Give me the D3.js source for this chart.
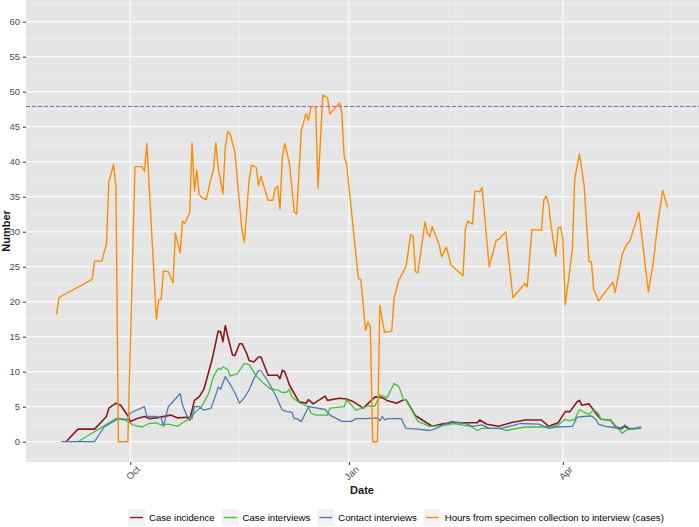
<!DOCTYPE html>
<html>
<head>
<meta charset="utf-8">
<script src="https://cdn.jsdelivr.net/npm/d3@7"></script>
<style>
  body { margin: 0; background: #fff; }
  svg { display: block; font-family: "Liberation Sans", Arial, sans-serif; }
</style>
</head>
<body>
<div id="main"></div>
<script>
// series names and colours (legend order)
const seriesNames = ['Case incidence', 'Case interviews', 'Contact interviews', 'Hours from specimen collection to interview (cases)'];
const seriesColors = ['#8b1a1a', '#3cc43c', '#4a7bb4', '#ff8c00'];

// dates are "MM-DD", Aug-Dec = 2020, Jan-May = 2021
const incidenceDates = ['09-04','09-09','09-16','09-21','09-22','09-25','09-27','09-30','10-01','10-04','10-07','10-09','10-12','10-18','10-21','10-25','10-26','10-28','10-30','11-01','11-04','11-05','11-07','11-08','11-09','11-10','11-11','11-13','11-14','11-16','11-17','11-19','11-20','11-22','11-24','11-25','11-28','12-02','12-03','12-04','12-05','12-07','12-11','12-14','12-15','12-17','12-22','12-23','12-28','12-31','01-03','01-07','01-12','01-15','01-17','01-21','01-24','01-25','01-29','02-05','02-10','02-15','02-24','02-25','02-28','03-05','03-10','03-16','03-23','03-26','03-30','04-02','04-04','04-07','04-08','04-09','04-12','04-14','04-15','04-17','04-21','04-23','04-25','04-27','04-29'];
const incidenceValues = [0,1.8,1.8,3.6,4.8,5.5,5.2,3.7,2.9,3.3,3.6,3.3,3.4,3.8,3.4,3.5,3.1,5.9,6.4,7.5,11.2,12.6,15.8,15.7,14.3,16.6,15.1,12.4,12.3,14.0,14.0,12.6,11.6,11.4,12.1,12.1,9.5,9.5,9.0,10.2,10.0,8.1,5.7,5.5,6.0,5.4,6.5,5.9,6.2,6.1,5.7,4.8,6.4,6.3,5.9,5.5,6.0,6.0,3.7,2.2,2.6,2.7,2.7,3.1,2.5,2.2,2.7,3.1,3.1,2.2,2.7,4.3,4.3,5.7,5.9,5.2,5.4,4.5,4.0,3.2,3.1,2.2,1.9,2.2,1.8];

const caseIntDates = ['09-09','09-25','09-29','10-02','10-06','10-09','10-12','10-14','10-17','10-21','10-23','10-26','10-28','10-31','11-03','11-05','11-07','11-08','11-09','11-11','11-12','11-15','11-18','11-20','11-23','11-26','11-29','12-02','12-04','12-06','12-07','12-08','12-11','12-15','12-16','12-18','12-23','12-24','12-30','12-31','01-04','01-09','01-12','01-14','01-17','01-20','01-22','01-24','01-25','01-30','02-04','02-09','02-14','02-21','02-24','02-26','03-05','03-08','03-16','03-27','03-30','04-02','04-04','04-06','04-08','04-10','04-12','04-14','04-16','04-17','04-21','04-26','04-28','05-04'];
const caseIntValues = [0,3.3,3.1,2.4,2.1,2.6,2.7,2.4,2.5,2.2,2.7,3.3,4.1,5.0,6.9,9.3,10.5,10.3,10.7,10.3,9.4,9.7,11.2,11.0,9.4,8.4,7.5,7.4,7.0,7.1,7.5,6.4,5.6,5.0,4.1,3.8,3.8,4.8,5.0,6.0,4.5,5.1,5.1,6.7,6.3,8.3,7.9,6.0,6.0,2.9,2.2,2.3,2.6,2.2,1.6,1.9,1.9,1.6,2.1,2.1,2.4,3.2,3.0,3.2,4.6,4.2,3.9,4.6,4.0,3.2,3.1,1.2,1.7,1.9];

const contactDates = ['09-02','09-16','09-20','09-24','09-26','09-30','10-01','10-07','10-08','10-12','10-14','10-15','10-17','10-20','10-22','10-23','10-25','10-27','10-28','10-30','11-01','11-04','11-06','11-07','11-08','11-10','11-12','11-14','11-16','11-18','11-20','11-22','11-24','11-25','11-28','12-01','12-04','12-06','12-08','12-09','12-10','12-12','12-15','12-22','12-24','12-29','01-02','01-04','01-08','01-13','01-14','01-15','01-16','01-17','01-23','01-25','01-30','02-04','02-06','02-11','02-13','02-19','02-22','02-26','03-01','03-06','03-12','03-14','03-22','03-26','03-29','04-05','04-07','04-10','04-13','04-15','04-16','04-19','04-21','04-24','04-26','04-27','04-29','05-01','05-04'];
const contactValues = [0,0,2.1,2.9,3.3,3.2,4.1,5.0,3.6,3.6,3.4,2.2,5.0,6.1,6.9,5.2,3.6,3.3,5.0,5.0,4.5,4.8,6.7,7.8,7.5,9.3,8.2,7.0,5.5,6.3,7.4,9.0,10.2,10.1,8.6,6.7,4.5,4.3,4.2,3.3,3.3,2.9,5.0,4.6,3.8,2.9,2.9,3.3,3.3,3.4,3.0,3.6,3.1,3.3,3.3,1.9,1.8,1.6,1.8,2.6,2.9,2.6,2.2,2.4,1.9,1.9,2.4,2.6,2.5,1.9,2.1,2.2,3.5,3.6,3.7,3.1,2.5,2.2,2.1,1.9,1.8,2.4,1.9,1.9,2.1];

const hoursDates = ['08-31','09-01','09-15','09-16','09-19','09-21','09-22','09-24','09-25','09-26','09-30','10-03','10-06','10-07','10-08','10-12','10-13','10-14','10-15','10-17','10-19','10-20','10-22','10-23','10-24','10-26','10-27','10-28','10-29','10-30','10-31','11-02','11-04','11-05','11-06','11-07','11-09','11-10','11-11','11-12','11-14','11-17','11-18','11-20','11-21','11-23','11-24','11-25','11-28','11-30','12-01','12-02','12-03','12-04','12-05','12-07','12-09','12-10','12-12','12-14','12-15','12-16','12-18','12-19','12-21','12-23','12-24','12-28','12-29','12-30','12-31','01-05','01-06','01-08','01-09','01-10','01-11','01-13','01-14','01-16','01-19','01-20','01-22','01-25','01-27','01-28','01-29','01-30','02-02','02-03','02-04','02-05','02-08','02-09','02-11','02-13','02-18','02-19','02-20','02-22','02-23','02-25','02-26','02-27','03-01','03-04','03-05','03-08','03-11','03-16','03-17','03-19','03-23','03-24','03-25','03-26','03-27','03-29','03-30','03-31','04-01','04-02','04-05','04-06','04-08','04-10','04-12','04-13','04-14','04-16','04-22','04-23','04-26','04-28','04-29','05-03','05-07','05-09','05-11','05-13','05-15'];
const hoursValues = [18.2,20.6,23.2,25.8,25.8,28.2,37.1,39.6,36.4,0,0,39.3,39.3,38.6,42.6,17.5,20.3,20.3,24.4,24.3,22.7,29.8,27.0,31.5,31.2,32.7,42.7,35.8,38.8,35.4,34.9,34.6,37.7,38.8,42.7,39.2,35.4,42.1,44.3,44.0,41.4,30.2,28.5,37.3,39.5,39.2,36.6,37.9,34.5,34.5,36.2,36.5,33.2,40.7,42.6,39.7,32.8,32.5,44.5,46.9,45.9,47.8,47.9,36.2,49.5,49.1,46.8,48.4,47.1,40.7,39.7,23.3,23.2,15.9,17.1,16.4,0,0,19.5,15.6,15.8,20.5,23.1,25.0,29.6,29.3,24.3,24.1,31.4,29.8,29.3,30.7,28.1,26.4,27.8,25.2,23.7,30.5,31.5,31.1,35.8,35.7,36.3,32.6,25.0,28.8,28.9,30.0,20.6,22.6,22.1,30.3,30.2,34.6,35.1,34.0,30.9,26.5,30.5,30.7,29.0,19.5,27.4,37.6,41.1,36.4,25.7,25.7,21.7,20.1,22.8,21.3,26.8,28.3,28.5,32.8,21.4,25.5,31.4,35.9,33.5];

const referenceLine = 48;
const yTicks = [0, 5, 10, 15, 20, 25, 30, 35, 40, 45, 50, 55, 60];
const xTickDates = ['10-01', '01-01', '04-01'];
const xTickLabels = ['Oct', 'Jan', 'Apr'];

const toDate = (s) => {
    const m = +s.slice(0, 2);
    return new Date(m >= 7 ? 2020 : 2021, m - 1, +s.slice(3, 5));
};
const build = (dates, values) => dates.map((d, i) => ({ date: toDate(d), value: values[i] }));

const series = [
    build(incidenceDates, incidenceValues),
    build(caseIntDates, caseIntValues),
    build(contactDates, contactValues),
    build(hoursDates, hoursValues)
];

const width = 699;
const height = 527;
const panel = { left: 26, right: 699, top: 0, bottom: 462 };

const svg = d3.select('#main')
    .append('svg')
    .attr('width', width)
    .attr('height', height);

// ggplot style 5% expansion on x
const allDates = series.flat().map((d) => d.date);
const [d0, d1] = d3.extent(allDates);
const span = d1 - d0;
const x = d3.scaleTime()
    .domain([new Date(+d0 - span * 0.05), new Date(+d1 + span * 0.05)])
    .range([panel.left, 698]);

const y = d3.scaleLinear().domain([-2.9, 63.1]).range([panel.bottom, panel.top]);

svg.append('rect')
    .attr('x', panel.left)
    .attr('y', panel.top)
    .attr('width', panel.right - panel.left)
    .attr('height', panel.bottom - panel.top)
    .attr('fill', '#e5e5e5');

const grid = svg.append('g');

// minor horizontal grid
const yMinor = d3.range(-2.5, 63, 5);
grid.selectAll('.yminor')
    .data(yMinor)
    .enter()
    .append('line')
    .attr('x1', panel.left).attr('x2', panel.right)
    .attr('y1', (d) => y(d)).attr('y2', (d) => y(d))
    .attr('stroke', '#f5f5f5').attr('stroke-width', 0.6);

// minor vertical grid: midpoints between quarter breaks
const tickDates = xTickDates.map(toDate);
const quarterBreaks = [new Date(2020, 6, 1), ...tickDates, new Date(2021, 6, 1)];
const xMinor = d3.pairs(quarterBreaks).map(([a, b]) => new Date((+a + +b) / 2));
grid.selectAll('.xminor')
    .data(xMinor.filter((d) => x(d) > panel.left && x(d) < panel.right))
    .enter()
    .append('line')
    .attr('x1', (d) => x(d)).attr('x2', (d) => x(d))
    .attr('y1', panel.top).attr('y2', panel.bottom)
    .attr('stroke', '#f5f5f5').attr('stroke-width', 0.6);

grid.selectAll('.ymajor')
    .data(yTicks)
    .enter()
    .append('line')
    .attr('x1', panel.left).attr('x2', panel.right)
    .attr('y1', (d) => y(d)).attr('y2', (d) => y(d))
    .attr('stroke', '#fff').attr('stroke-width', 1.1);

grid.selectAll('.xmajor')
    .data(tickDates)
    .enter()
    .append('line')
    .attr('x1', (d) => x(d)).attr('x2', (d) => x(d))
    .attr('y1', panel.top).attr('y2', panel.bottom)
    .attr('stroke', '#fff').attr('stroke-width', 1.1);

// reference line
svg.append('line')
    .attr('x1', panel.left).attr('x2', panel.right)
    .attr('y1', Math.round(y(referenceLine)) + 0.5).attr('y2', Math.round(y(referenceLine)) + 0.5)
    .attr('stroke', '#9d55e0')
    .attr('stroke-width', 1)
    .attr('stroke-dasharray', '4,2');

const line = d3.line().x((d) => x(d.date)).y((d) => y(d.value));
const widths = [1.6, 1.3, 1.3, 1.4];

svg.append('g')
    .selectAll('path')
    .data(series)
    .enter()
    .append('path')
    .attr('d', line)
    .attr('fill', 'none')
    .attr('stroke', (d, i) => seriesColors[i])
    .attr('stroke-width', (d, i) => widths[i])
    .attr('stroke-linejoin', 'round');

// y axis
const yAxis = d3.axisLeft(y).tickValues(yTicks).tickSize(3).tickPadding(3);
const yg = svg.append('g')
    .attr('transform', `translate(${panel.left},0)`)
    .call(yAxis);
yg.select('.domain').remove();
yg.selectAll('line').attr('stroke', '#333');
yg.selectAll('text').attr('fill', '#4d4d4d').style('font-size', '9.5px').style('font-family', 'Liberation Sans, Arial, sans-serif');

// x axis
const xAxis = d3.axisBottom(x).tickValues(tickDates).tickSize(3).tickFormat((d, i) => xTickLabels[i]);
const xg = svg.append('g')
    .attr('transform', `translate(0,${panel.bottom})`)
    .call(xAxis);
xg.select('.domain').remove();
xg.selectAll('line').attr('stroke', '#333');
xg.selectAll('text')
    .attr('fill', '#4d4d4d')
    .style('font-size', '9.5px')
    .style('font-family', 'Liberation Sans, Arial, sans-serif')
    .attr('text-anchor', 'end')
    .attr('y', 0).attr('dy', 0)
    .attr('transform', 'translate(10,8) rotate(-45)');

// axis titles
svg.append('text')
    .attr('x', (panel.left + 698) / 2)
    .attr('y', 494)
    .attr('text-anchor', 'middle')
    .style('font-size', '11px')
    .style('font-weight', 'bold')
    .attr('fill', '#1a1a1a')
    .text('Date');

svg.append('text')
    .attr('transform', `translate(9.5,${(panel.top + panel.bottom) / 2}) rotate(-90)`)
    .attr('text-anchor', 'middle')
    .style('font-size', '11px')
    .style('font-weight', 'bold')
    .attr('fill', '#1a1a1a')
    .text('Number');

// legend
const legend = svg.append('g').attr('id', 'legend');
let lx = 128;
seriesNames.forEach((name, i) => {
    const g = legend.append('g');
    g.append('rect')
        .attr('x', lx).attr('y', 509)
        .attr('width', 17).attr('height', 17)
        .attr('fill', '#f2f2f2');
    g.append('line')
        .attr('x1', lx + 2).attr('x2', lx + 15)
        .attr('y1', 517.5).attr('y2', 517.5)
        .attr('stroke', seriesColors[i])
        .attr('stroke-width', 1.4);
    const t = g.append('text')
        .attr('x', lx + 21)
        .attr('y', 521)
        .style('font-size', '9.6px')
        .attr('fill', '#000')
        .text(name);
    lx += 21 + t.node().getComputedTextLength() + 7;
});
</script>
</body>
</html>
